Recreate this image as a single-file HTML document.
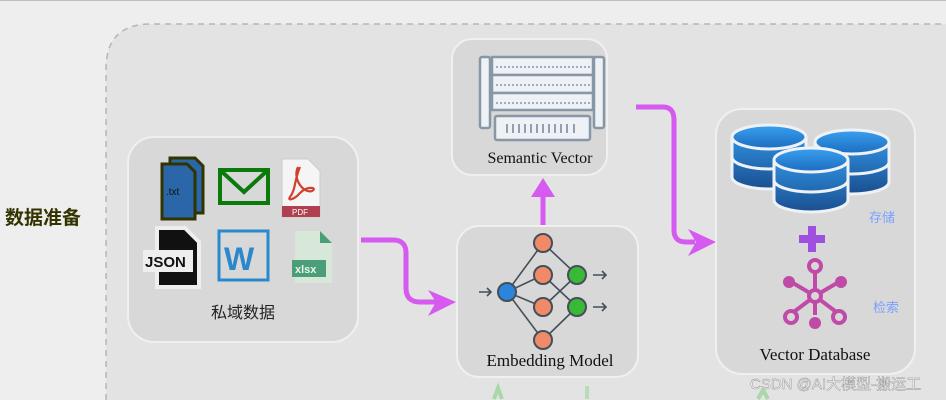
<!DOCTYPE html>
<html><head><meta charset="utf-8"><style>
html,body{margin:0;padding:0;width:946px;height:400px;overflow:hidden;background:#eeeeee;font-family:"Liberation Serif",serif;}
svg{display:block;}
</style></head><body>
<svg width="946" height="400" viewBox="0 0 946 400" xmlns="http://www.w3.org/2000/svg">
<defs>
<linearGradient id="db" x1="0" y1="0" x2="0" y2="1"><stop offset="0" stop-color="#2f8fe0"/><stop offset="1" stop-color="#1a4f8f"/></linearGradient>
<linearGradient id="dbt" x1="0" y1="0" x2="0" y2="1"><stop offset="0" stop-color="#3aa0f0"/><stop offset="1" stop-color="#1c6cc0"/></linearGradient>
</defs>
<line x1="0" y1="0.5" x2="946" y2="0.5" stroke="#bdbdbd"/>
<path d="M106 400V69Q106 24 151 24H946V400Z" fill="#e3e3e3"/>
<path d="M106 400V69Q106 24 151 24H946" fill="none" stroke="#b5b5b5" stroke-width="1.5" stroke-dasharray="6,5"/>
<text x="5" y="224" font-family="Liberation Sans,'Noto Sans CJK SC',sans-serif" font-size="19" font-weight="bold" fill="#333300">数据准备</text>

<rect x="128" y="137" width="230" height="205" rx="26" fill="#d8d8d8" stroke="#f0f0f0" stroke-width="2"/>
<rect x="452" y="39" width="155" height="136" rx="20" fill="#d8d8d8" stroke="#f0f0f0" stroke-width="2"/>
<rect x="457" y="226" width="181" height="151" rx="22" fill="#d8d8d8" stroke="#f0f0f0" stroke-width="2"/>
<rect x="716" y="109" width="199" height="265" rx="26" fill="#d8d8d8" stroke="#f0f0f0" stroke-width="2"/>

<g>
<path d="M170 158h25l8 8v47h-33z" fill="#2a66a8" stroke="#333300" stroke-width="3"/>
<path d="M162 164h25l8 8v47h-33z" fill="#2a66a8" stroke="#333300" stroke-width="3"/>
<text x="166" y="195" font-family="Liberation Sans,sans-serif" font-size="10" fill="#111">.txt</text>
<rect x="220" y="170" width="48" height="33" fill="none" stroke="#0a7a0a" stroke-width="4"/>
<path d="M220 170l24 22 24-22" fill="none" stroke="#0a7a0a" stroke-width="4"/>
<path d="M282 159h26l12 12v46h-38z" fill="#f5f5f5" stroke="#ccc"/>
<path d="M300 167c-6 14-4 22-10 30c-3 4 4 3 10-4c8-8 18-5 12-2c-8 3-20-12-14-24" fill="none" stroke="#d04030" stroke-width="2.2"/>
<rect x="282" y="206" width="38" height="11" fill="#b04050"/>
<text x="292" y="215" font-family="Liberation Sans,sans-serif" font-size="8" fill="#fff">PDF</text>
<path d="M157 228h28l14 14v45h-42z" fill="#111" stroke="#eee" stroke-width="4"/>
<rect x="143" y="250" width="50" height="22" fill="#eee"/>
<text x="145" y="267" font-family="Liberation Sans,sans-serif" font-size="15" font-weight="bold" fill="#111">JSON</text>
<rect x="219" y="231" width="49" height="49" fill="none" stroke="#2a88cc" stroke-width="3"/>
<text x="224" y="270" font-family="Liberation Sans,sans-serif" font-size="32" font-weight="bold" fill="#2a88cc">W</text>
<path d="M295 231h25l12 12v40h-37z" fill="#d7e8d8"/>
<path d="M320 231v12h12z" fill="#4a9f78"/>
<rect x="292" y="260" width="34" height="17" fill="#4a9f78"/>
<text x="295" y="273" font-family="Liberation Sans,sans-serif" font-size="11" font-weight="bold" fill="#e8f5e8">xlsx</text>
</g>
<text x="243" y="318" text-anchor="middle" font-family="Liberation Sans,'Noto Sans CJK SC',sans-serif" font-size="16" fill="#222">私域数据</text>

<g stroke="#8797a5" stroke-width="2.5" fill="#eef2f6">
<rect x="480" y="57" width="10" height="71" rx="2"/>
<rect x="594" y="57" width="10" height="71" rx="2"/>
<rect x="492" y="57" width="101" height="18"/>
<rect x="492" y="75" width="101" height="18"/>
<rect x="492" y="93" width="101" height="17"/>
<rect x="495" y="116" width="95" height="24" rx="2"/>
</g>
<g stroke="#8797a5" stroke-width="1.5" stroke-dasharray="2,2">
<line x1="496" y1="67" x2="590" y2="67"/><line x1="496" y1="85" x2="590" y2="85"/><line x1="496" y1="103" x2="590" y2="103"/>
</g>
<g stroke="#8797a5" stroke-width="1.8"><path d="M507 124v9M513 124v9M519 124v9M525 124v9M531 124v9M537 124v9M543 124v9M549 124v9M555 124v9M561 124v9M567 124v9M574 124v9"/></g>
<text x="540" y="163" text-anchor="middle" font-size="16" fill="#111">Semantic Vector</text>

<g stroke="#444f58" stroke-width="1.6" fill="none">
<path d="M507 292L543 243M507 292L543 275M507 292L543 307M507 292L543 340M543 243L577 275M543 275L577 307M543 307L577 275M543 340L577 307"/>
<path d="M479 292h12M487 288l4 4-4 4M593 275h13M602 271l4 4-4 4M593 307h13M602 303l4 4-4 4"/>
</g>
<g stroke="#444f58" stroke-width="2">
<circle cx="507" cy="292" r="9" fill="#2a86dc"/>
<circle cx="543" cy="243" r="9" fill="#f08a68"/><circle cx="543" cy="275" r="9" fill="#f08a68"/>
<circle cx="543" cy="307" r="9" fill="#f08a68"/><circle cx="543" cy="340" r="9" fill="#f08a68"/>
<circle cx="577" cy="275" r="9" fill="#3ab838"/><circle cx="577" cy="307" r="9" fill="#3ab838"/>
</g>
<text x="550" y="366" text-anchor="middle" font-size="17" fill="#111">Embedding Model</text>

<g stroke="#eef2f6" stroke-width="3">
<path d="M732 137v40a37 12 0 0 0 74 0v-40" fill="url(#db)"/><path d="M732 157a37 12 0 0 0 74 0" fill="none"/>
<ellipse cx="769" cy="137" rx="37" ry="12" fill="url(#dbt)"/>
<path d="M815 142v40a37 12 0 0 0 74 0v-40" fill="url(#db)"/><path d="M815 162a37 12 0 0 0 74 0" fill="none"/>
<ellipse cx="852" cy="142" rx="37" ry="12" fill="url(#dbt)"/>
<path d="M774 160v40a37 12 0 0 0 74 0v-40" fill="url(#db)"/><path d="M774 180a37 12 0 0 0 74 0" fill="none"/>
<ellipse cx="811" cy="160" rx="37" ry="12" fill="url(#dbt)"/>
</g>
<path d="M808 226h8v9h9v8h-9v9h-8v-9h-9v-8h9z" fill="#a050e0"/>
<g stroke="#c04aa8" stroke-width="4" fill="none">
<path d="M815 296V272M815 296l-22-13M815 296l22-13M815 296l-20 15M815 296l20 15M815 296v19"/>
<circle cx="815" cy="296" r="6" fill="#d8d8d8"/>
<circle cx="815" cy="266" r="6" fill="#d8d8d8"/>
<circle cx="791" cy="317" r="6" fill="#d8d8d8"/>
<circle cx="839" cy="317" r="6" fill="#d8d8d8"/>
</g>
<g fill="#c04aa8"><circle cx="789" cy="282" r="6"/><circle cx="841" cy="282" r="6"/><circle cx="815" cy="323" r="6"/></g>
<text x="815" y="360" text-anchor="middle" font-size="17" fill="#111">Vector Database</text>
<text x="869" y="222" font-family="Liberation Sans,'Noto Sans CJK SC',sans-serif" font-size="13" fill="#7aa0ff">存储</text>
<text x="873" y="312" font-family="Liberation Sans,'Noto Sans CJK SC',sans-serif" font-size="13" fill="#7aa0ff">检索</text>

<g stroke="#d65af0" stroke-width="5" fill="none" stroke-linejoin="round">
<path d="M361 240H393Q406 240 406 253V288Q406 302 420 302H436"/>
<path d="M543 225V192"/>
<path d="M636 107H663Q674 107 674 120V230Q674 242 686 242H695"/>
</g>
<g fill="#d65af0">
<path d="M456 302L428 290L436 302L428 316z"/>
<path d="M543 178L531 197H555z"/>
<path d="M716 242L688 229L696 242L688 256z"/>
</g>
<path d="M502 399L498 388L494 399" fill="none" stroke="#a8d8a8" stroke-width="4"/>
<line x1="587" y1="386" x2="587" y2="399" stroke="#b8dcb8" stroke-width="4"/>
<path d="M768 399L763 390L758 399" fill="none" stroke="#a8d8a8" stroke-width="4"/>
<text x="750" y="389" font-family="Liberation Sans,'Noto Sans CJK SC',sans-serif" font-size="15" fill="#f4f4f4" stroke="#8a8a8a" stroke-width="0.4">CSDN @AI大模型-搬运工</text>
</svg>
</body></html>
